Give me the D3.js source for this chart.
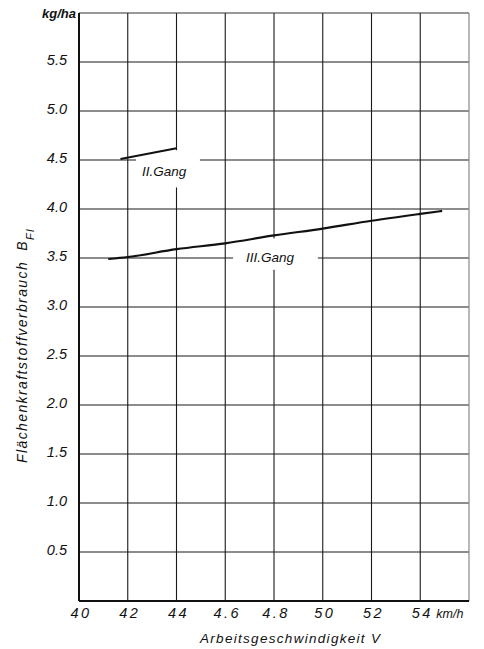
<!DOCTYPE html>
<html>
<head>
<meta charset="utf-8">
<script src="https://cdn.jsdelivr.net/npm/d3@7"></script>
<style>
  html, body { margin: 0; padding: 0; background: #fff; }
  svg { display: block; }
  text { font-family: "Liberation Sans", Arial, sans-serif; font-style: italic; fill: #111; }
</style>
</head>
<body>
<script>
// Fuel consumption per area (kg/ha) against working speed (km/h)
const xTicks = [4.0, 4.2, 4.4, 4.6, 4.8, 5.0, 5.2, 5.4];
const xTickLabels = ["40", "42", "44", "4.6", "4.8", "50", "52", "54"];
const yTicks = [0.5, 1.0, 1.5, 2.0, 2.5, 3.0, 3.5, 4.0, 4.5, 5.0, 5.5];
const yTickLabels = ["0.5", "1.0", "1.5", "2.0", "2.5", "3.0", "3.5", "4.0", "4.5", "5.0", "5.5"];

// II. Gang
const gear2Speed = [4.17, 4.40];
const gear2Fuel = [4.51, 4.62];
// III. Gang
const gear3Speed = [4.12, 4.20, 4.40, 4.60, 4.80, 5.00, 5.20, 5.40, 5.49];
const gear3Fuel = [3.49, 3.51, 3.59, 3.65, 3.73, 3.80, 3.88, 3.95, 3.98];

const W = 484, H = 649;
const m = { left: 79, right: 15, top: 13, bottom: 48 };
const x = d3.scaleLinear().domain([4.0, 5.6]).range([m.left, W - m.right]);
const y = d3.scaleLinear().domain([0, 6]).range([H - m.bottom, m.top]);

const svg = d3.select("body").append("svg").attr("width", W).attr("height", H);

// grid
const grid = svg.append("g").attr("stroke", "#1a1a1a").attr("stroke-width", 1.1);
grid.selectAll("line.v").data(xTicks.slice(1)).join("line")
  .attr("x1", d => x(d)).attr("x2", d => x(d))
  .attr("y1", y(6)).attr("y2", y(0));
grid.selectAll("line.h").data(yTicks).join("line")
  .attr("x1", x(4.0)).attr("x2", x(5.6))
  .attr("y1", d => y(d)).attr("y2", d => y(d));
// frame: top and right lighter, left and bottom heavy
svg.append("line").attr("x1", x(4.0)).attr("x2", x(5.6)).attr("y1", y(6)).attr("y2", y(6))
  .attr("stroke", "#333").attr("stroke-width", 1.2);
svg.append("line").attr("x1", x(5.6)).attr("x2", x(5.6)).attr("y1", y(6)).attr("y2", y(0))
  .attr("stroke", "#888").attr("stroke-width", 1.2);
svg.append("line").attr("x1", x(4.0)).attr("x2", x(4.0)).attr("y1", y(6)).attr("y2", y(0))
  .attr("stroke", "#111").attr("stroke-width", 2);
svg.append("line").attr("x1", x(4.0)).attr("x2", x(5.6)).attr("y1", y(0)).attr("y2", y(0))
  .attr("stroke", "#111").attr("stroke-width", 2);

// clearings in the grid around the curve labels
function clearing(s0, s1, f0, f1) {
  svg.append("rect").attr("x", x(s0)).attr("y", y(f1))
    .attr("width", x(s1) - x(s0)).attr("height", y(f0) - y(f1)).attr("fill", "#fff");
}
clearing(4.234, 4.496, 4.22, 4.60);
clearing(4.632, 4.98, 3.38, 3.70);

// curves
const line = d3.line().x(d => x(d[0])).y(d => y(d[1]));
svg.append("path").datum(d3.zip(gear2Speed, gear2Fuel)).attr("d", line)
  .attr("fill", "none").attr("stroke", "#111").attr("stroke-width", 2);
svg.append("path").datum(d3.zip(gear3Speed, gear3Fuel))
  .attr("d", d3.line().curve(d3.curveMonotoneX).x(d => x(d[0])).y(d => y(d[1])))
  .attr("fill", "none").attr("stroke", "#111").attr("stroke-width", 2.2);

svg.append("text").attr("x", 142).attr("y", 176).attr("font-size", 13.5).text("II.Gang");
svg.append("text").attr("x", 246).attr("y", 262).attr("font-size", 13.5).text("III.Gang");

// y tick labels
svg.append("g").selectAll("text").data(yTicks).join("text")
  .attr("x", 67).attr("y", d => y(d) + 3)
  .attr("text-anchor", "end").attr("font-size", 14.5)
  .text((d, i) => yTickLabels[i]);
svg.append("text").attr("x", 76).attr("y", 18).attr("text-anchor", "end")
  .attr("font-size", 13).attr("font-weight", "bold").text("kg/ha");

// x tick labels
svg.append("g").selectAll("text").data(xTicks).join("text")
  .attr("x", d => x(d) + 2).attr("y", 618)
  .attr("text-anchor", "middle").attr("font-size", 14.5).attr("letter-spacing", 2.5)
  .text((d, i) => xTickLabels[i]);
svg.append("text").attr("x", x(5.4) + 16).attr("y", 618).attr("font-size", 12.5)
  .text("km/h");

// axis titles
svg.append("text").attr("x", 200).attr("y", 643).attr("font-size", 13.5).attr("letter-spacing", 1.3)
  .text("Arbeitsgeschwindigkeit  V");
const yt = svg.append("text").attr("transform", "translate(27,463) rotate(-90)")
  .attr("font-size", 14).attr("letter-spacing", 1.4);
yt.append("tspan").text("Flächenkraftstoffverbrauch");
yt.append("tspan").attr("dx", 10).text("B");
yt.append("tspan").attr("dy", 7).attr("font-size", 11).text("Fl");
</script>
</body>
</html>
